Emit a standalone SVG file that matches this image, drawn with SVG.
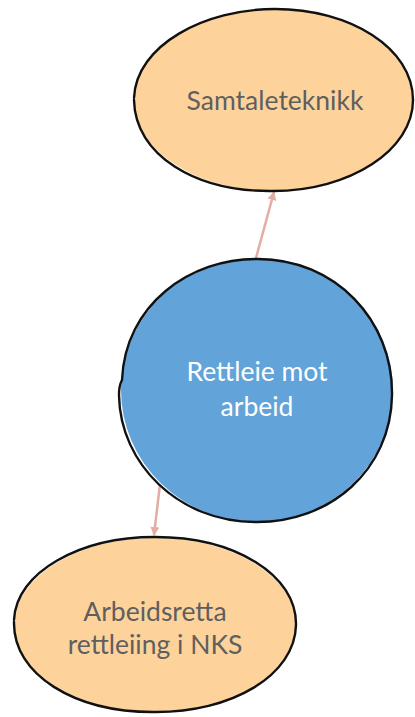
<svg xmlns="http://www.w3.org/2000/svg" width="415" height="717" viewBox="0 0 415 717">
  <defs>
    <style>
      .leaf { fill: #fdd39b; }
      .hub { fill: #62a3d9; }
      .ink { fill: none; stroke: #111; stroke-width: 2.4; stroke-linecap: round; stroke-linejoin: round; }
      .lbl { font-family: "Lato", "Liberation Sans", sans-serif; font-size: 26.5px; text-anchor: middle; }
      .dark { fill: #5f5f5f; }
      .light { fill: #ffffff; }
      .link { fill: none; stroke: #e3ada3; stroke-width: 2.5; marker-end: url(#tip); }
    </style>
    <marker id="tip" viewBox="0 0 10 10" refX="9" refY="5" markerWidth="9" markerHeight="9" orient="auto" markerUnits="userSpaceOnUse">
      <path d="M0,0 L10,5 L0,10 z" fill="#e3ada3"/>
    </marker>
  </defs>

  <g id="connectors">
    <path class="link" d="M256,258 L274,192"/>
    <path class="link" d="M160,484 L154,535"/>
  </g>

  <g id="node-samtaleteknikk">
    <ellipse class="leaf" cx="273" cy="100" rx="139" ry="91"/>
    <path class="ink" d="M134,98 C136,45 205,9 275,9 C350,9 413,48 413,100 C413,150 350,191 273,191 C195,192 135,155 134,100"/>
    <text class="lbl dark" x="275" y="110">Samtaleteknikk</text>
  </g>

  <g id="node-rettleie">
    <ellipse class="hub" cx="257" cy="390" rx="136" ry="132"/>
    <path class="ink" d="M122,380 C125,305 190,258 258,259 C335,259 393,320 392,395 C391,470 330,523 255,522 C180,522 120,465 119,395 C119,385 121,382 122,380"/>
    <text class="lbl light" x="257" y="381">Rettleie mot</text>
    <text class="lbl light" x="257" y="416">arbeid</text>
  </g>

  <g id="node-arbeidsretta">
    <ellipse class="leaf" cx="155" cy="625" rx="141" ry="87"/>
    <path class="ink" d="M14,620 C16,572 80,537 155,537 C235,537 297,575 296,625 C295,675 232,713 153,712 C75,712 13,675 14,622"/>
    <text class="lbl dark" x="155" y="621">Arbeidsretta</text>
    <text class="lbl dark" x="155" y="654">rettleiing i NKS</text>
  </g>
</svg>
